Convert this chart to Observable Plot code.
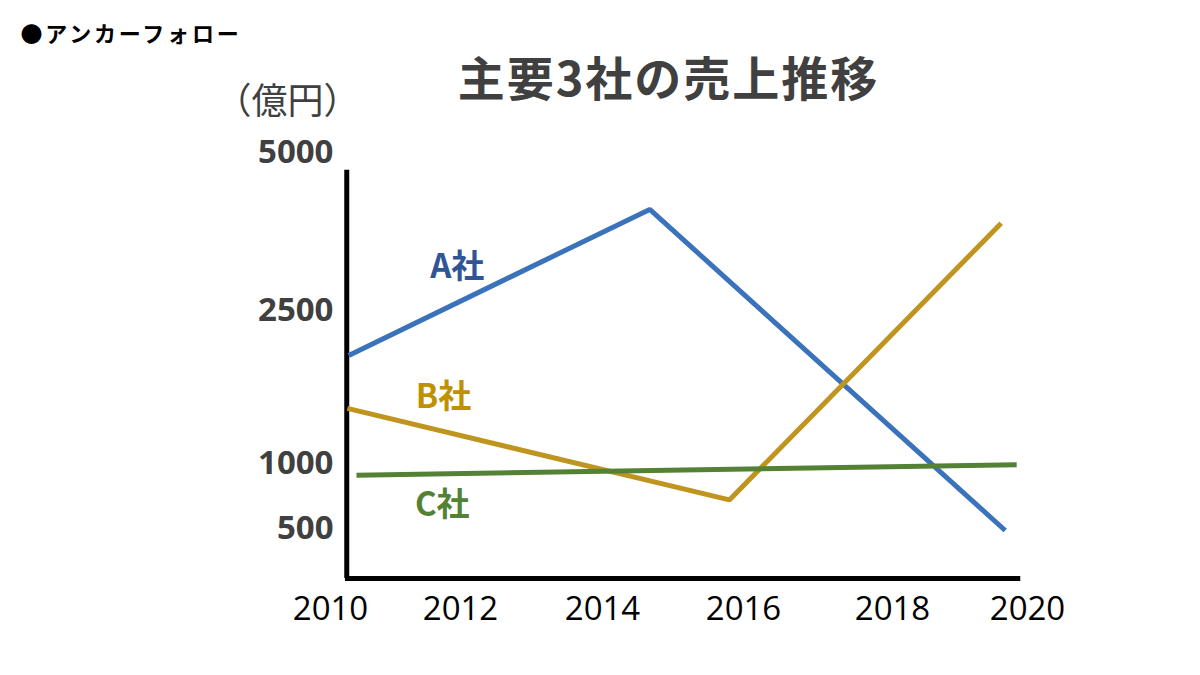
<!DOCTYPE html>
<html>
<head>
<meta charset="utf-8">
<script src="https://cdn.jsdelivr.net/npm/d3@7"></script>
<script src="https://cdn.jsdelivr.net/npm/@observablehq/plot@0.6"></script>
<style>
  html, body { margin: 0; padding: 0; background: #fff; }
  #chart svg { display: block; }
</style>
</head>
<body>
<div id="chart"></div>
<script>
// ---- data ----
const companies = ["A社", "B社", "C社"];
const colors = ["#3a73bb", "#bf9520", "#548235"];
const labelColors = ["#2f5597", "#bf9000", "#548235"];

const aYears = [2010.28, 2014.67, 2019.67];
const aSales = [2060, 4100, 480];
const bYears = [2010.26, 2015.8, 2019.61];
const bSales = [1540, 720, 3880];
const cYears = [2010.4, 2019.84];
const cSales = [910, 990];

const xTicks = [2010, 2012, 2014, 2016, 2018, 2020];
const yTicks = [500, 1000, 2500, 5000];

const title = "主要3社の売上推移";
const header = "●アンカーフォロー";
const unit = "（億円）";

// ---- layout (not data): the original uses an uneven (piecewise) value axis ----
const xRange = [330, 460, 602, 743, 892, 1027];
const yDomain = [0, 500, 1000, 2500, 5000];
const yRange = [578, 528, 463, 310, 152];
const xPiece = d3.scaleLinear().domain(xTicks).range(xRange);
const yPiece = d3.scaleLinear().domain(yDomain).range(yRange);
const axisLeftYear = 2010.25, axisRightYear = 2019.9, axisTopValue = 4720;
const labelPos = [
  {x: 2011.95, y: 3180},
  {x: 2011.74, y: 1647},
  {x: 2011.72, y: 677}
];

const rows = [
  ...aYears.map((x, i) => ({company: companies[0], x, y: aSales[i]})),
  ...bYears.map((x, i) => ({company: companies[1], x, y: bSales[i]})),
  ...cYears.map((x, i) => ({company: companies[2], x, y: cSales[i]}))
];
const labels = companies.map((c, i) => ({company: c, color: labelColors[i], ...labelPos[i]}));

const cjk = "'Noto Sans CJK JP', 'Noto Sans', sans-serif";
const num = "'Open Sans', 'Noto Sans', sans-serif";

const plot = Plot.plot({
  width: 1200,
  height: 675,
  margin: 0,
  style: {background: "#fff"},
  x: {transform: d => xPiece(d), domain: [0, 1200], range: [0, 1200], axis: null},
  y: {transform: d => yPiece(d), domain: [0, 675], range: [0, 675], axis: null},
  color: {domain: companies, range: colors},
  marks: [
    Plot.ruleX([axisLeftYear], {y1: 0, y2: axisTopValue, stroke: "#000", strokeWidth: 5}),
    Plot.ruleY([0], {x1: axisLeftYear - 0.02, x2: axisRightYear, stroke: "#000", strokeWidth: 5}),
    Plot.line(rows, {x: "x", y: "y", z: "company", stroke: "company", strokeWidth: 5, strokeLinejoin: "miter", strokeLinecap: "butt"}),
    Plot.text(yTicks, {y: d => d, text: d => String(d), frameAnchor: "left", dx: 333, textAnchor: "end",
      fontSize: 33, fontWeight: "bold", fill: "#404040", fontFamily: num}),
    Plot.text(xTicks, {x: d => d, y: 0, dy: 31, text: d => String(d), textAnchor: "middle",
      fontSize: 33, fill: "#000", fontFamily: num}),
    Plot.text(labels, {x: "x", y: "y", text: "company", fill: "color", fontSize: 33, fontWeight: "bold",
      fontFamily: cjk, textAnchor: "middle"}),
    Plot.text([title], {text: d => d, frameAnchor: "top", lineAnchor: "middle", dx: 68, dy: 80, fontSize: 47, fontWeight: "bold",
      fill: "#404040", fontFamily: cjk, textAnchor: "middle", ariaLabel: () => "title-text"}),
    Plot.text([header], {text: d => d, frameAnchor: "top-left", lineAnchor: "middle", dx: 20, dy: 34, fontSize: 22, fontWeight: "bold",
      fill: "#000", fontFamily: cjk, textAnchor: "start", ariaLabel: () => "header-text"}),
    Plot.text([unit], {text: d => d, frameAnchor: "top-left", lineAnchor: "middle", dx: 287, dy: 102, fontSize: 36,
      fill: "#404040", fontFamily: cjk, textAnchor: "middle"})
  ]
});

d3.select(plot).selectAll('[aria-label="title-text"]').style("letter-spacing", "2px");
d3.select(plot).selectAll('[aria-label="header-text"]').style("letter-spacing", "2.8px");
document.getElementById("chart").appendChild(plot);
</script>
</body>
</html>
